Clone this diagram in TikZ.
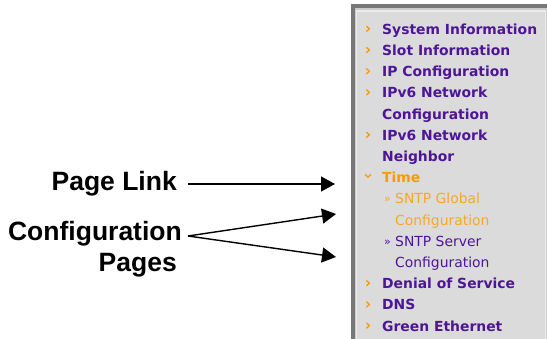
\documentclass[tikz,border=0pt]{standalone}
\usepackage{fontspec}
\setmainfont{DejaVu Sans}
\newfontfamily\labelfont{Liberation Sans}
\usetikzlibrary{arrows.meta}

\definecolor{menupurple}{RGB}{78,22,150}
\definecolor{menuorange}{RGB}{255,153,0}
\definecolor{suborange}{RGB}{247,168,40}
\definecolor{panelbg}{RGB}{219,219,219}
\definecolor{frame}{RGB}{120,120,120}

\tikzset{
  item/.style={anchor=base west, inner sep=0pt, font=\fontsize{13.9}{14}\selectfont\bfseries, text=menupurple},
  subitem/.style={anchor=base west, inner sep=0pt, font=\fontsize{13.9}{14}\selectfont, text=menupurple},
  submark/.style={anchor=base west, inner sep=0pt, font=\fontsize{11}{11}\selectfont, text=menupurple},
  bulletmark/.style={draw=menuorange, line width=1.3pt, line cap=round, line join=round},
  callout/.style={anchor=base east, inner sep=0pt, font=\labelfont\fontsize{26.5}{28}\selectfont\bfseries},
  pointer/.style={line width=1.4pt, -{Triangle[length=14pt,width=15pt]}}
}

\begin{document}
\begin{tikzpicture}[x=1pt,y=-1pt]
\useasboundingbox (0,0) rectangle (547,339);
\fill[white] (0,0) rectangle (547,339);

% menu panel with bevelled frame
\fill[frame] (351,4.5) rectangle (547,339);
\fill[gray!40] (354.5,8.5) rectangle (547,339);
\fill[white!85!gray] (355.5,10.5) rectangle (546,339);
\fill[panelbg] (357,12) rectangle (545,339);

% menu entries, one baseline per row
\def\rowgap{21.2}
\def\rowzero{34.3}
\foreach \i/\txt/\kind in {
  0/System Information/b, 1/Slot Information/b, 2/IP Configuration/b,
  3/IPv6 Network/b, 4/Configuration/c, 5/IPv6 Network/b, 6/Neighbor/c,
  12/Denial of Service/b, 13/DNS/b, 14/Green Ethernet/b}{
  \pgfmathsetmacro\yb{\rowzero+\i*\rowgap}
  \node[item] (row\i) at (382,\yb) {\txt};
  \if b\kind
    \draw[bulletmark] (366.5,\yb-8) -- (369.5,\yb-5.5) -- (366.5,\yb-3);
  \fi
}

% expanded group
\pgfmathsetmacro\ytime{\rowzero+7*\rowgap}
\node[item, text=menuorange] (row7) at (382,\ytime) {Time};
\draw[bulletmark] (365.5,\ytime-8) -- (368,\ytime-5.5) -- (370.5,\ytime-8);

\pgfmathsetmacro\ya{\rowzero+8*\rowgap}
\pgfmathsetmacro\yb{\rowzero+9*\rowgap}
\pgfmathsetmacro\yc{\rowzero+10*\rowgap}
\pgfmathsetmacro\yd{\rowzero+11*\rowgap}
\node[submark, text=suborange] (mark8) at (384,\ya-1) {»};
\node[subitem, text=suborange] (row8) at (395,\ya) {SNTP Global};
\node[subitem, text=suborange] (row9) at (395,\yb) {Configuration};
\node[submark] (mark10) at (384,\yc-1) {»};
\node[subitem] (row10) at (395,\yc) {SNTP Server};
\node[subitem] (row11) at (395,\yd) {Configuration};

% call-out labels and their pointers
\node[callout] (pagelink) at (177,191) {Page Link};
\node[callout] (config) at (182,241) {Configuration};
\node[callout] (pages) at (177,272) {Pages};

\coordinate (linkstart) at (188,184);
\coordinate (linkend) at (335,184);
\coordinate (fork) at (188,236);
\coordinate (upperend) at (336,214);
\coordinate (lowerend) at (336,257);

\draw[pointer] (linkstart) -- (linkend);
\draw[pointer] (fork) -- (upperend);
\draw[pointer] (fork) -- (lowerend);
\end{tikzpicture}
\end{document}
